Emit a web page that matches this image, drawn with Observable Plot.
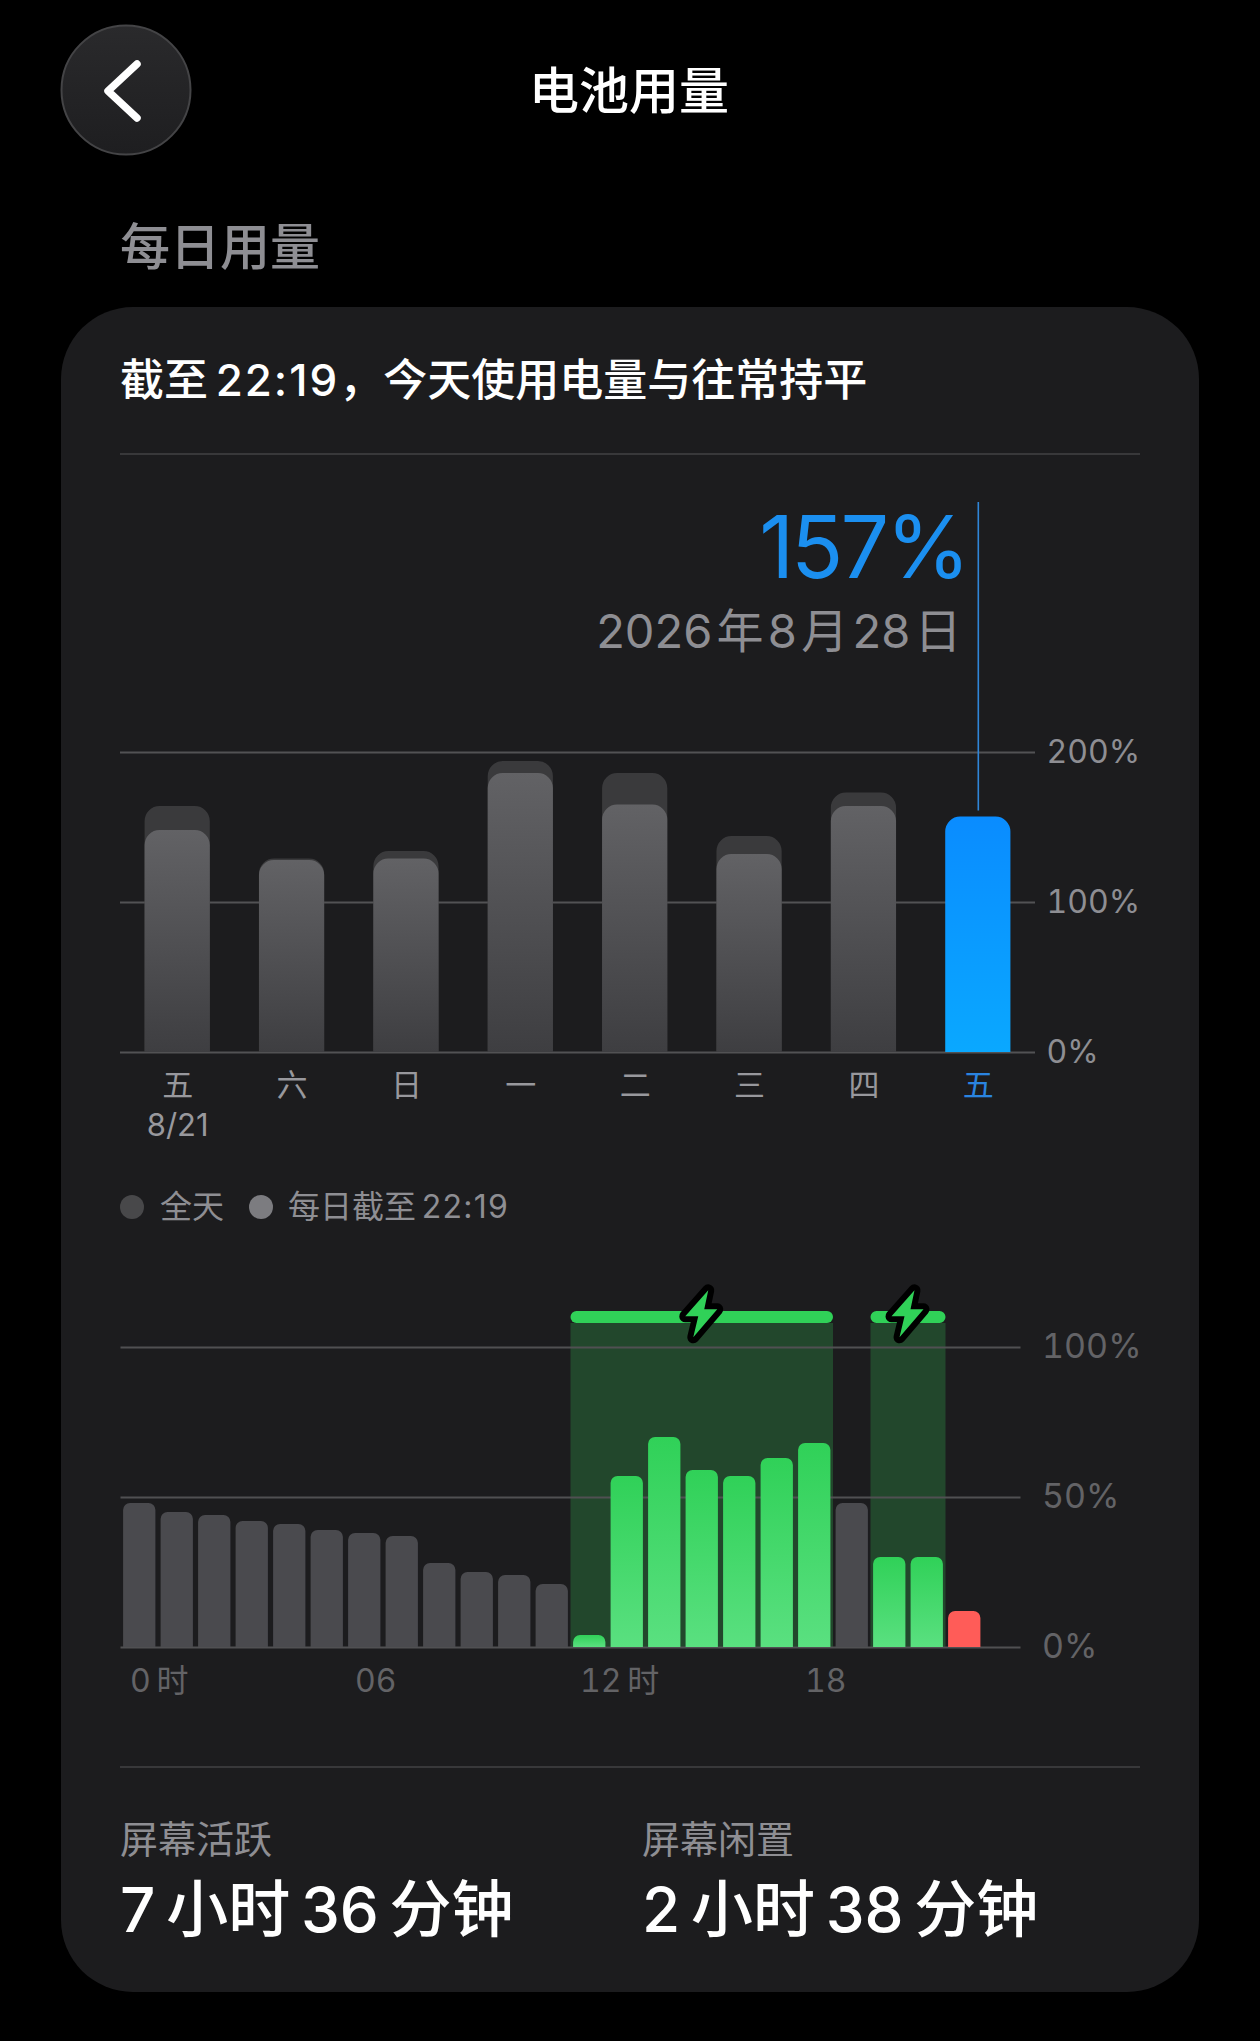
<!DOCTYPE html>
<html lang="zh-CN">
<head>
<meta charset="utf-8">
<script src="https://cdn.jsdelivr.net/npm/d3@7"></script>
<script src="https://cdn.jsdelivr.net/npm/@observablehq/plot@0.6"></script>
<style>
  html, body { margin: 0; background: #000; }
  #page { position: relative; width: 1260px; height: 2041px; overflow: hidden; background: #000;
          font-family: Inter, "Noto Sans CJK SC", sans-serif; }
  .abs { position: absolute; white-space: pre; line-height: 1; }
  .plot { position: absolute; left: 0; }
  .plot svg { display: block; background: transparent; overflow: visible; }
  .today { letter-spacing: -3px; }
</style>
</head>
<body>
<div id="page">
  <svg class="abs" style="left:0;top:0" width="260" height="180" aria-hidden="true">
    <defs><linearGradient id="btn" x1="0" y1="0" x2="0" y2="1"><stop offset="0" stop-color="#2a2a2c"/><stop offset="1" stop-color="#1e1e20"/></linearGradient></defs>
    <circle cx="126" cy="90" r="64.5" fill="url(#btn)" stroke="#444446" stroke-width="2"/>
    <path d="M137 64 L108 91 L137 118" fill="none" stroke="#fff" stroke-width="7.5" stroke-linecap="round" stroke-linejoin="round"/>
  </svg>
  <div class="abs" style="left:0;width:1258px;text-align:center;top:66px;font-size:50px;font-weight:500;color:#fff">电池用量</div>
  <div class="abs" style="left:120px;top:222px;font-size:50px;font-weight:500;color:#8e8e93">每日用量</div>
  <div class="abs" style="left:61px;top:307px;width:1138px;height:1685px;background:#1c1c1e;border-radius:72px"></div>
  <div class="abs" style="left:120px;top:358px;font-size:44px;font-weight:500;color:#fff">截至&#8201;<span style="letter-spacing:2px">22:19</span>，今天使用电量与往常持平</div>
  <div class="abs" style="left:120px;top:453px;width:1020px;height:2px;background:#38383a"></div>

  <div id="daily" class="plot" style="top:502px"></div>

  <div class="abs" style="left:120px;top:1195px;width:24px;height:24px;border-radius:50%;background:#48484a"></div>
  <div class="abs" style="left:160px;top:1191px;font-size:32px;color:#8e8e93">全天</div>
  <div class="abs" style="left:249px;top:1195px;width:24px;height:24px;border-radius:50%;background:#7c7c80"></div>
  <div class="abs" style="left:288px;top:1191px;font-size:32px;color:#8e8e93">每日截至&#8201;<span style="letter-spacing:1.2px">22:19</span></div>

  <div id="hourly" class="plot" style="top:1271.7px"></div>

  <div class="abs" style="left:120px;top:1766px;width:1020px;height:2px;background:#38383a"></div>
  <div class="abs" style="left:120px;top:1820px;font-size:38px;color:#8e8e93">屏幕活跃</div>
  <div class="abs" style="left:642px;top:1820px;font-size:38px;color:#8e8e93">屏幕闲置</div>
  <div class="abs" style="left:120px;top:1879px;font-size:62px;font-weight:500;color:#fff">7&#8201;小时&#8201;36&#8201;分钟</div>
  <div class="abs" style="left:642px;top:1879px;font-size:62px;font-weight:500;color:#fff">2&#8201;小时&#8201;38&#8201;分钟</div>
</div>
<script>
// ---- chart data ----
const dayKeys   = ["8/21","8/22","8/23","8/24","8/25","8/26","8/27","8/28"];
const dayLabels = ["五\n8/21","六","日","一","二","三","四","五"];
const fullDay   = [164,129,134,194,186,144,173,null];
const upToNow   = [148,128,129,186,165,132,164,157];
const dailyTicks = [0,100,200];
const todayValue = "157%";
const todayDate  = "2026\u200a年\u200a8\u200a月\u200a28\u200a日";

const hourLevels = [48,45,44,42,41,39,38,37,28,25,24,21,4,57,70,59,57,63,68,48,30,30,12];
const chargingHours = [12,13,14,15,16,17,18,20,21];
const lowHours = [22];
const chargeSpans = [[12,19],[20,22]];
const hourlyTicks = [0,50,100];
const hourTicks = [0,6,12,18];
const hourTickLabels = ["0\u2009时","06","12\u2009时","18"];

// ---- tables ----
const days = dayKeys.map((day,i) => ({day, label: dayLabels[i], full: fullDay[i], now: upToNow[i]}));
const hours = hourLevels.map((level,hour) => ({hour, end: hour+1, level,
  kind: chargingHours.includes(hour) ? "charge" : lowHours.includes(hour) ? "low" : "idle"}));
const spans = chargeSpans.map(([a,b]) => ({a, b, mid:(a+b)/2}));

const grad = (id, top, bottom) => {
  const g = d3.create("svg:linearGradient").attr("id", id).attr("x1",0).attr("y1",0).attr("x2",0).attr("y2",1);
  g.append("stop").attr("offset",0).attr("stop-color",top);
  g.append("stop").attr("offset",1).attr("stop-color",bottom);
  return g;
};
const defs = (...list) => () => {
  const d = d3.create("svg:defs");
  list.forEach(g => d.append(() => g.node()));
  return d.node();
};

const baseStyle = {background:"transparent", fontFamily:'Inter, "Noto Sans CJK SC", sans-serif', color:"#8e8e93"};
const labelFor = d => dayLabels[dayKeys.indexOf(d)];

const dailyPlot = Plot.plot({
  width: 1260, height: 640,
  marginLeft: 120, marginRight: 225, marginTop: 0, marginBottom: 90,
  style: baseStyle,
  x: {type:"band", domain: dayKeys, paddingInner: 0.43, paddingOuter: 0.215, round:false, label:null},
  y: {domain:[0,366.7], label:null},
  marks: [
    defs(grad("grayBar","#626265","#3e3e41"), grad("blueBar","#0a8cff","#0aa8ff")),
    Plot.ruleY(dailyTicks, {stroke:"#525254", strokeWidth:2}),
    Plot.barY(days.filter(d => d.full != null), {x:"day", y:"full", fill:"#3a3a3c", ry1:15}),
    Plot.barY(days.slice(0,7), {x:"day", y:"now", fill:"url(#grayBar)", ry1:15}),
    Plot.barY(days.slice(7), {x:"day", y:"now", fill:"url(#blueBar)", ry1:15}),
    Plot.ruleX(dayKeys.slice(7), {y1:161, y2:366.7, stroke:"#2f86d8", strokeWidth:1.6}),
    Plot.axisY({anchor:"right", ticks:dailyTicks, tickFormat:d=>d+"%", tickSize:0, tickPadding:11, fontSize:32, label:null, color:"#8e8e93"}),
    Plot.axisX({ticks:dayKeys.slice(0,7), tickFormat:labelFor, tickSize:0, tickPadding:15, fontSize:31, lineHeight:1.29, label:null, color:"#98989d"}),
    Plot.axisX({ticks:dayKeys.slice(7), tickFormat:labelFor, tickSize:0, tickPadding:15, fontSize:31, lineHeight:1.29, label:null, color:"#2a84e0"}),
    Plot.text([todayValue], {frameAnchor:"top-right", dx:-68, dy:14, lineAnchor:"top", text:d=>d, fontSize:86, fill:"#1b8ff0", className:"today"}),
    Plot.text([todayDate], {frameAnchor:"top-right", dx:-74, dy:112, lineAnchor:"top", text:d=>d, fontSize:47, fill:"#8e8e93"})
  ]
});
document.getElementById("daily").append(dailyPlot);

const bolt = {draw(c, size){
  const s = Math.sqrt(size/Math.PI);
  const p = [[6,-23],[-17,3],[-4,3],[-9,24],[15,-4],[2,-4]];
  p.forEach(([x,y],i) => i ? c.lineTo(x*s,y*s) : c.moveTo(x*s,y*s));
  c.closePath();
}};

const hourlyPlot = Plot.plot({
  width: 1260, height: 435,
  marginLeft: 120.5, marginRight: 239.5, marginTop: 0, marginBottom: 60,
  style: baseStyle,
  x: {domain:[0,24], label:null},
  y: {domain:[0,125], label:null},
  marks: [
    defs(grad("greenBar","#30d158","#5ae080")),
    Plot.rectY(spans, {x1:"a", x2:"b", y1:0, y2:108, fill:"#22472c"}),
    Plot.ruleY(hourlyTicks, {stroke:"#505052", strokeWidth:2}),
    Plot.rectY(hours.filter(d=>d.kind==="idle"), {x1:"hour", x2:"end", y1:0, y2:"level", insetLeft:2.6, insetRight:2.6, fill:"#4a4a4e", ry2:7}),
    Plot.rectY(hours.filter(d=>d.kind==="charge"), {x1:"hour", x2:"end", y1:0, y2:"level", insetLeft:2.6, insetRight:2.6, fill:"url(#greenBar)", ry2:7}),
    Plot.rectY(hours.filter(d=>d.kind==="low"), {x1:"hour", x2:"end", y1:0, y2:"level", insetLeft:2.6, insetRight:2.6, fill:"#ff5c58", ry2:7}),
    Plot.rectY(spans, {x1:"a", x2:"b", y1:108, y2:112, fill:"#30d158", r:6}),
    Plot.dot(spans, {x:"mid", y:111.4, r:1, symbol:bolt, fill:"#30d158", stroke:"#000", strokeWidth:12, strokeLinejoin:"round", paintOrder:"stroke"}),
    Plot.axisY({anchor:"right", ticks:hourlyTicks, tickFormat:d=>d+"%", tickSize:0, tickPadding:21, fontSize:34, label:null, color:"#636366"}),
    Plot.axisX({ticks:hourTicks, tickFormat:d=>hourTickLabels[hourTicks.indexOf(d)], tickSize:0, tickPadding:22, textAnchor:"start", dx:9, fontSize:32, label:null, color:"#636366"})
  ]
});
document.getElementById("hourly").append(hourlyPlot);
</script>
</body>
</html>
